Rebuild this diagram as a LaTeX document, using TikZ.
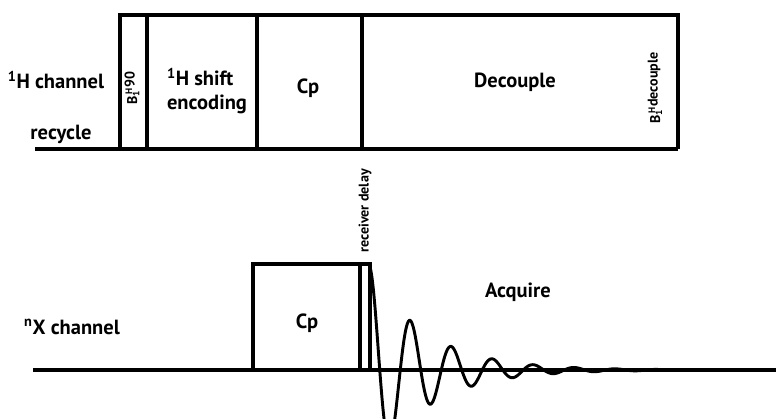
\documentclass[tikz,border=0pt]{standalone}
\usepackage{fontspec}
\setmainfont{PT Sans}
\usepackage{tikz}

\begin{document}
\begin{tikzpicture}[x=0.3mm,y=-0.3mm,
    pulse/.style={draw=black,line width=2.8pt,line join=miter},
    lbl/.style={text=black,font=\fontsize{17.5}{20}\selectfont\bfseries,inner sep=0pt},
    small/.style={text=black,font=\fontsize{12}{14}\selectfont\bfseries,inner sep=0pt,rotate=90}]

\useasboundingbox (0,0) rectangle (776,419);

% ---------- 1H channel ----------
\draw[pulse] (35,149) -- (678,149);
\draw[pulse] (120,149) -- (120,15) -- (678,15) -- (678,149);
\foreach \xb in {147,257,362}{
    \draw[pulse] (\xb,15) -- (\xb,149);
}

\node[lbl] (hchan) at (56,80) {\textsuperscript{1}H channel};
\node[lbl] (recyc) at (61,134) {recycle};
\node[small] (bninety) at (132,88) {B\textsubscript{1}\kern-.3em\textsuperscript{H}\raisebox{.35ex}{90}};
\node[lbl,align=left] (hshift) at (207,91) {\textsuperscript{1}H shift\\encoding};
\node[lbl] (cptop) at (308,88) {Cp};
\node[lbl] (decoup) at (515,82) {Decouple};
\node[small] (bdec) at (655,88) {B\textsubscript{1}\kern-.3em\textsuperscript{H}\raisebox{.35ex}{decouple}};

% ---------- nX channel ----------
\draw[pulse] (33,370) -- (776,370);
\draw[pulse] (253,370) -- (253,264) -- (370,264) -- (370,370);
\draw[pulse] (360,264) -- (360,370);

% FID
\draw[black,line width=2.5pt,domain=369.5:700,smooth,samples=500]
    plot (\x,{370 - 104*exp(-(\x-369.5)/55)*cos(360/41*(\x-369.5))});

\node[small] (rdelay) at (365,211) {receiver delay};
\node[lbl] (xchan) at (72,327) {\textsuperscript{n}X channel};
\node[lbl] (cpbot) at (307,323) {Cp};
\node[lbl] (acq) at (518,292) {Acquire};

\end{tikzpicture}
\end{document}
